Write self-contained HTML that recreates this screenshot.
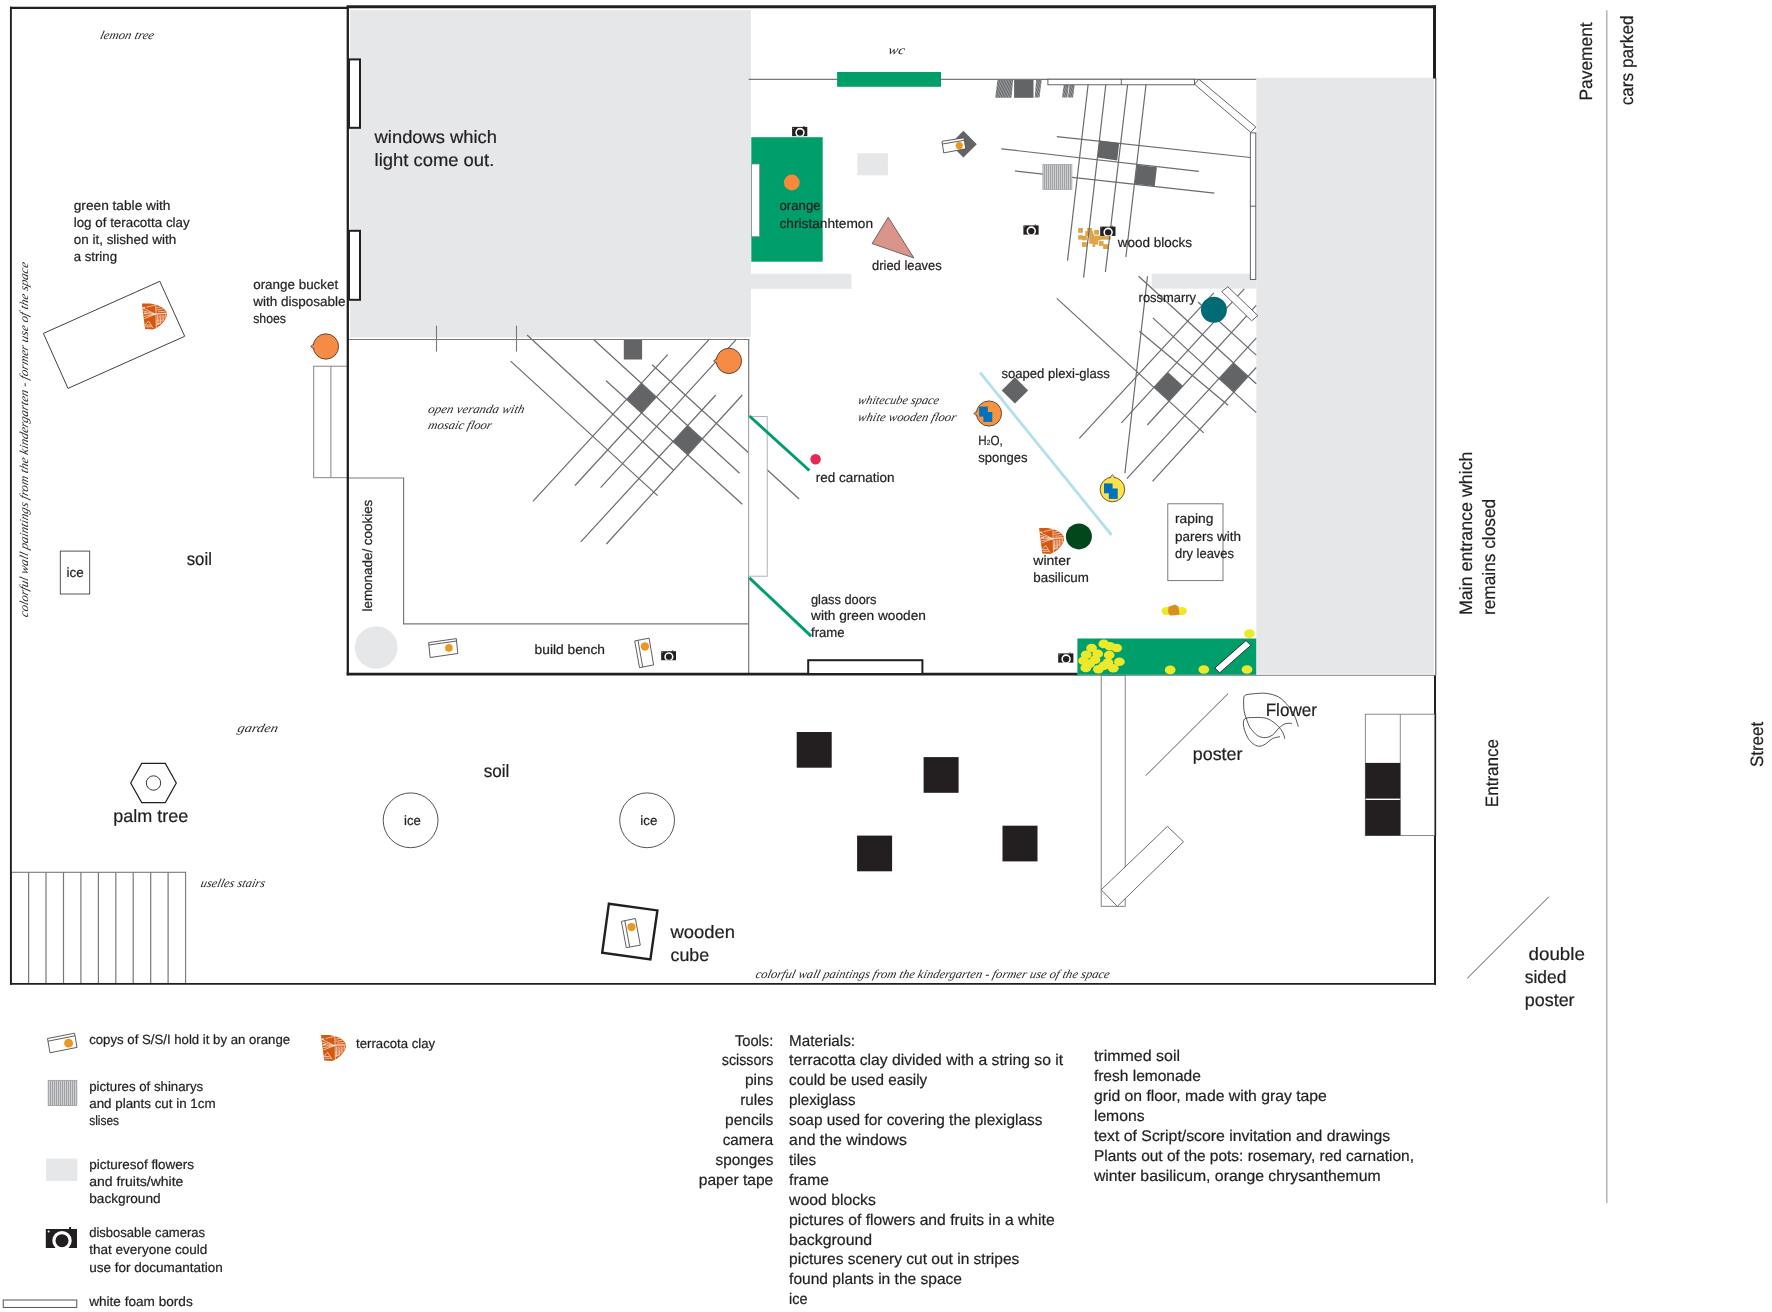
<!DOCTYPE html>
<html lang="en"><head><meta charset="utf-8"><title>Floor plan</title>
<style>
html,body{margin:0;padding:0;background:#fff;}
body{width:1772px;height:1312px;overflow:hidden;}
svg{display:block;will-change:transform;}
text{text-rendering:geometricPrecision;}
.s{font-family:"Liberation Sans",sans-serif;fill:#231f20;stroke:#231f20;stroke-width:0.22px;}
.c{font-family:"Liberation Serif",serif;font-style:italic;fill:#2b2728;}
</style></head><body>
<svg width="1772" height="1312" viewBox="0 0 1772 1312">
<rect width="1772" height="1312" fill="#fff"/>
<defs>
<g id="cam"><rect x="0" y="0" width="31.2" height="19" fill="#231f20"/><rect x="23.3" y="-2" width="2" height="2.2" fill="#231f20"/>
<clipPath id="camc"><rect x="0" y="0" width="31.2" height="19"/></clipPath>
<circle cx="16.2" cy="11.7" r="8.1" fill="none" stroke="#fff" stroke-width="3.2" clip-path="url(#camc)"/><circle cx="2.8" cy="2.6" r="1" fill="#fff"/></g>
<g id="terra"><path d="M0,0 L8,0 C16,1 25,5 25,10.5 C25,17 17,24 11,26 L3.2,25.4 Z" fill="#d4580f"/>
<g stroke="#fff" stroke-width="0.75" stroke-opacity="0.8" fill="none"><path d="M13.6,10.6 L0.6,4.2"/><path d="M13.6,10.6 L1,7.2"/><path d="M13.6,10.6 L1.5,10"/><path d="M13.6,10.6 L2,12.8"/><path d="M13.6,10.6 L2.4,15"/><path d="M13.4,1.4 L4.5,3.6"/><path d="M0.8,4.4 L3.2,3.8" stroke-width="1.2"/><path d="M2.2,9.8 L4.6,9.2" stroke-width="1.2"/><path d="M13.8,0.8 L14.4,24.5"/><path d="M3,21.5 L6.6,17.4 L11,24.3"/><path d="M3.2,21.6 L8.8,21.4"/><path d="M3.4,23.3 L10,23.1"/><path d="M14,10.2 L24.8,9.8" stroke-width="1.3"/><path d="M15.6,11.5 L15.3,22"/><path d="M17.2,11.5 L16.9,21.5"/><path d="M18.8,11.5 L18.5,20.5"/><path d="M20.4,11.5 L20.1,19.2"/><path d="M22,11.5 L21.7,17.6"/><path d="M23.5,11 L23.3,15"/><path d="M14.5,6.5 L21.5,5.2"/><path d="M14.5,4.2 L19,3.2"/><path d="M16,8.2 L23.5,7.6"/><path d="M14.2,20.8 L18.5,19.6"/><path d="M14.2,17.5 L20.5,16.8" stroke-opacity="0.4"/></g></g>
<pattern id="vstripe" width="2" height="4" patternUnits="userSpaceOnUse"><rect width="2" height="4" fill="#cfd0d2"/><rect width="0.9" height="4" fill="#9a9c9f"/></pattern>
<pattern id="hatch" width="2.4" height="2.4" patternUnits="userSpaceOnUse" patternTransform="rotate(-28)"><rect width="2.4" height="2.4" fill="#6d6e71"/><rect width="0.9" height="2.4" fill="#9fa1a4"/></pattern>
</defs>
<rect x="350.1" y="10.2" width="400.8" height="327.2" fill="#e6e7e8" stroke="none" stroke-width="1" />
<rect x="1256.3" y="77.8" width="177.6" height="596.0" fill="#e6e7e8" stroke="none" stroke-width="1" />
<rect x="750.3" y="273.7" width="101.2" height="15.1" fill="#e6e7e8" stroke="none" stroke-width="1" />
<rect x="1151.8" y="273.7" width="104.6" height="14.9" fill="#e6e7e8" stroke="none" stroke-width="1" />
<rect x="857.3" y="153.3" width="30.6" height="22.0" fill="#e6e7e8" stroke="none" stroke-width="1" />
<circle cx="376.2" cy="647.5" r="21.3" fill="#e6e7e8" stroke="none" stroke-width="1"/>
<polygon points="641.4,383.3 656.3,397.0 641.6,413.0 626.7,399.4" fill="#636466" stroke="#636466" stroke-width="0.6" />
<polygon points="687.6,425.6 702.2,439.0 687.8,454.8 673.1,441.5" fill="#636466" stroke="#636466" stroke-width="0.6" />
<line x1="510.6" y1="361.1" x2="657.6" y2="495.6" stroke="#6a6b6e" stroke-width="1.2" />
<line x1="527.1" y1="335.0" x2="673.4" y2="470.0" stroke="#6a6b6e" stroke-width="1.2" />
<line x1="606.1" y1="380.7" x2="742.3" y2="504.3" stroke="#6a6b6e" stroke-width="1.2" />
<line x1="593.3" y1="339.2" x2="739.6" y2="473.3" stroke="#6a6b6e" stroke-width="1.2" />
<line x1="652.2" y1="364.8" x2="799.1" y2="499.0" stroke="#6a6b6e" stroke-width="1.2" />
<line x1="532.9" y1="501.4" x2="667.7" y2="354.7" stroke="#6a6b6e" stroke-width="1.2" />
<line x1="575.0" y1="485.5" x2="709.4" y2="339.2" stroke="#6a6b6e" stroke-width="1.2" />
<line x1="600.6" y1="487.7" x2="735.9" y2="339.8" stroke="#6a6b6e" stroke-width="1.2" />
<line x1="580.8" y1="541.8" x2="715.8" y2="395.0" stroke="#6a6b6e" stroke-width="1.2" />
<line x1="606.4" y1="544.0" x2="742.3" y2="395.0" stroke="#6a6b6e" stroke-width="1.2" />
<rect x="623.8" y="339.6" width="18.3" height="19.9" fill="#636466" stroke="none" stroke-width="1" />
<polygon points="1153.9,387.3 1167.8,372.3 1182.8,386.1 1169.0,401.1" fill="#636466" stroke="#636466" stroke-width="0.6" />
<polygon points="1219.0,378.6 1233.4,363.0 1248.1,376.4 1233.8,392.1" fill="#636466" stroke="#636466" stroke-width="0.6" />
<line x1="1056.8" y1="298.4" x2="1203.7" y2="432.9" stroke="#6a6b6e" stroke-width="1.2" />
<line x1="1139.4" y1="331.3" x2="1228.1" y2="405.3" stroke="#6a6b6e" stroke-width="1.2" />
<line x1="1152.8" y1="317.9" x2="1256.2" y2="412.6" stroke="#6a6b6e" stroke-width="1.2" />
<line x1="1138.6" y1="276.3" x2="1256.2" y2="383.8" stroke="#6a6b6e" stroke-width="1.2" />
<line x1="1198.0" y1="302.0" x2="1256.2" y2="355.1" stroke="#6a6b6e" stroke-width="1.2" />
<line x1="1079.3" y1="438.3" x2="1213.8" y2="292.9" stroke="#6a6b6e" stroke-width="1.2" />
<line x1="1121.4" y1="422.8" x2="1244.3" y2="288.9" stroke="#6a6b6e" stroke-width="1.2" />
<line x1="1147.3" y1="425.0" x2="1256.2" y2="305.4" stroke="#6a6b6e" stroke-width="1.2" />
<line x1="1126.9" y1="478.6" x2="1256.2" y2="338.2" stroke="#6a6b6e" stroke-width="1.2" />
<line x1="1152.5" y1="481.3" x2="1256.2" y2="367.5" stroke="#6a6b6e" stroke-width="1.2" />
<line x1="1147.5" y1="276.2" x2="1124.9" y2="473.2" stroke="#6a6b6e" stroke-width="1.2" />
<rect x="1078.1" y="228.0" width="4.8" height="4.8" fill="#dda548" stroke="none" stroke-width="1" />
<rect x="1087.2" y="228.0" width="4.8" height="4.8" fill="#dda548" stroke="none" stroke-width="1" />
<rect x="1085.3" y="231.1" width="4.8" height="4.8" fill="#dda548" stroke="none" stroke-width="1" />
<rect x="1088.5" y="231.1" width="4.8" height="4.8" fill="#dda548" stroke="none" stroke-width="1" />
<rect x="1094.2" y="229.9" width="4.8" height="4.8" fill="#dda548" stroke="none" stroke-width="1" />
<rect x="1078.1" y="235.2" width="4.8" height="4.4" fill="#dda548" stroke="none" stroke-width="1" />
<rect x="1082.0" y="235.9" width="4.8" height="4.4" fill="#dda548" stroke="none" stroke-width="1" />
<rect x="1089.2" y="234.2" width="4.8" height="4.8" fill="#dda548" stroke="none" stroke-width="1" />
<rect x="1092.0" y="235.6" width="4.8" height="4.8" fill="#dda548" stroke="none" stroke-width="1" />
<rect x="1096.1" y="235.6" width="4.8" height="4.8" fill="#dda548" stroke="none" stroke-width="1" />
<rect x="1100.9" y="236.1" width="9.9" height="3.6" fill="#dda548" stroke="none" stroke-width="1" />
<rect x="1089.2" y="239.0" width="4.8" height="4.8" fill="#dda548" stroke="none" stroke-width="1" />
<rect x="1093.3" y="239.7" width="4.8" height="4.8" fill="#dda548" stroke="none" stroke-width="1" />
<rect x="1082.0" y="242.1" width="4.8" height="4.8" fill="#dda548" stroke="none" stroke-width="1" />
<rect x="1092.6" y="242.4" width="2.6" height="4.6" fill="#dda548" stroke="none" stroke-width="1" />
<rect x="1098.8" y="241.1" width="4.8" height="4.8" fill="#dda548" stroke="none" stroke-width="1" />
<rect x="1103.1" y="244.2" width="5.8" height="4.8" fill="#dda548" stroke="none" stroke-width="1" />
<line x1="1088.1" y1="84.8" x2="1067.5" y2="260.8" stroke="#6a6b6e" stroke-width="1.2" />
<line x1="1105.8" y1="84.8" x2="1083.6" y2="277.6" stroke="#6a6b6e" stroke-width="1.2" />
<line x1="1127.6" y1="84.8" x2="1105.4" y2="272.0" stroke="#6a6b6e" stroke-width="1.2" />
<line x1="1146.0" y1="84.8" x2="1125.9" y2="257.0" stroke="#6a6b6e" stroke-width="1.2" />
<line x1="1056.8" y1="136.6" x2="1250.3" y2="157.5" stroke="#6a6b6e" stroke-width="1.2" />
<line x1="1001.3" y1="148.8" x2="1198.8" y2="171.4" stroke="#6a6b6e" stroke-width="1.2" />
<line x1="1014.9" y1="170.9" x2="1214.4" y2="193.2" stroke="#6a6b6e" stroke-width="1.2" />
<polygon points="1099.4,140.4 1119.2,142.9 1117.2,160.5 1097.4,157.5" fill="#636466" stroke="none" stroke-width="1" />
<polygon points="1136.8,164.7 1156.9,167.3 1154.7,186.2 1134.6,183.7" fill="#636466" stroke="none" stroke-width="1" />
<rect x="1042.9" y="164.4" width="29.0" height="25.2" fill="url(#vstripe)" stroke="#a7a9ac" stroke-width="0.8" />
<polygon points="997.5,79.4 1013.2,79.4 1011.5,97.8 995.2,97.8" fill="url(#hatch)" stroke="none" stroke-width="1" />
<rect x="1014.1" y="79.4" width="19.4" height="18.4" fill="#636466" stroke="none" stroke-width="1" />
<polygon points="1036.1,79.9 1041.7,79.9 1039.5,97.5 1034.7,97.5" fill="url(#hatch)" stroke="none" stroke-width="1" />
<polygon points="1063.7,85.0 1068.9,85.0 1067.3,97.5 1062.0,97.5" fill="url(#hatch)" stroke="none" stroke-width="1" />
<polygon points="1069.5,85.0 1074.7,85.0 1073.0,97.5 1067.9,97.5" fill="url(#hatch)" stroke="none" stroke-width="1" />
<line x1="980.1" y1="372.7" x2="1111.5" y2="535.0" stroke="#b3e0ec" stroke-width="2.8" />
<polygon points="1014.9,377.2 1028.1,390.4 1014.9,403.6 1001.7,390.4" fill="#636466" stroke="none" stroke-width="1" />
<line x1="748.6" y1="79.4" x2="1256.2" y2="79.4" stroke="#77787b" stroke-width="1.1" />
<line x1="347.7" y1="339.5" x2="749.3" y2="339.5" stroke="#77787b" stroke-width="1.1" />
<line x1="748.7" y1="339.0" x2="748.7" y2="675.0" stroke="#77787b" stroke-width="1.2" />
<line x1="436.5" y1="325.7" x2="436.5" y2="351.5" stroke="#77787b" stroke-width="1.1" />
<line x1="516.5" y1="325.7" x2="516.5" y2="351.5" stroke="#77787b" stroke-width="1.1" />
<polyline points="347.7,478 403.6,478 403.6,623.9 748.7,623.9" fill="none" stroke="#77787b" stroke-width="1.2"/>
<line x1="1435.8" y1="78.0" x2="1435.8" y2="675.5" stroke="#6d6e71" stroke-width="1.2" />
<line x1="1077.0" y1="675.3" x2="1436.0" y2="675.3" stroke="#97999c" stroke-width="1.2" />
<rect x="748.7" y="416.6" width="18.5" height="159.6" fill="#fff" stroke="#a7a9ac" stroke-width="0.9" />
<rect x="313.7" y="366.2" width="34.0" height="111.5" fill="#fff" stroke="#77787b" stroke-width="0.9" />
<line x1="330.9" y1="366.2" x2="330.9" y2="477.7" stroke="#77787b" stroke-width="0.9" />
<rect x="11.2" y="872.3" width="174.4" height="111.2" fill="none" stroke="#77787b" stroke-width="1.1" />
<line x1="28.6" y1="872.3" x2="28.6" y2="983.5" stroke="#77787b" stroke-width="1.2" />
<line x1="46.0" y1="872.3" x2="46.0" y2="983.5" stroke="#77787b" stroke-width="1.2" />
<line x1="63.5" y1="872.3" x2="63.5" y2="983.5" stroke="#77787b" stroke-width="1.2" />
<line x1="80.9" y1="872.3" x2="80.9" y2="983.5" stroke="#77787b" stroke-width="1.2" />
<line x1="98.4" y1="872.3" x2="98.4" y2="983.5" stroke="#77787b" stroke-width="1.2" />
<line x1="115.8" y1="872.3" x2="115.8" y2="983.5" stroke="#77787b" stroke-width="1.2" />
<line x1="133.2" y1="872.3" x2="133.2" y2="983.5" stroke="#77787b" stroke-width="1.2" />
<line x1="150.7" y1="872.3" x2="150.7" y2="983.5" stroke="#77787b" stroke-width="1.2" />
<line x1="168.1" y1="872.3" x2="168.1" y2="983.5" stroke="#77787b" stroke-width="1.2" />
<rect x="1101.2" y="675.4" width="24.0" height="230.9" fill="none" stroke="#77787b" stroke-width="0.9" />
<polygon points="1167.4,826.4 1183.5,841.8 1117.3,906.3 1101.2,889.8" fill="#fff" stroke="#58595b" stroke-width="0.9" />
<line x1="1228.1" y1="693.6" x2="1145.8" y2="775.6" stroke="#58595b" stroke-width="1" />
<line x1="1548.9" y1="896.7" x2="1467.2" y2="978.4" stroke="#58595b" stroke-width="1" />
<line x1="1606.8" y1="10.3" x2="1606.8" y2="1203.0" stroke="#a7a9ac" stroke-width="1.3" />
<line x1="10.0" y1="7.9" x2="347.8" y2="7.9" stroke="#231f20" stroke-width="2.3" />
<line x1="10.9" y1="6.8" x2="10.9" y2="984.8" stroke="#231f20" stroke-width="1.9" />
<line x1="10.0" y1="983.9" x2="1436.0" y2="983.9" stroke="#231f20" stroke-width="1.9" />
<line x1="346.7" y1="6.8" x2="1436.0" y2="6.8" stroke="#231f20" stroke-width="2.9" />
<line x1="347.8" y1="6.0" x2="347.8" y2="675.3" stroke="#231f20" stroke-width="2.3" />
<line x1="1434.5" y1="5.4" x2="1434.5" y2="78.5" stroke="#231f20" stroke-width="3.0" />
<line x1="1435.0" y1="675.5" x2="1435.0" y2="984.8" stroke="#231f20" stroke-width="2.0" />
<line x1="346.7" y1="674.1" x2="1077.6" y2="674.1" stroke="#231f20" stroke-width="2.6" />
<rect x="349.0" y="59.4" width="11.0" height="68.4" fill="#fff" stroke="#231f20" stroke-width="2" />
<rect x="349.0" y="230.8" width="11.0" height="69.0" fill="#fff" stroke="#231f20" stroke-width="2" />
<rect x="808.2" y="660.2" width="114.2" height="13.8" fill="#fff" stroke="#231f20" stroke-width="2" />
<rect x="1047.9" y="79.2" width="146.7" height="5.6" fill="#fff" stroke="#3f3f41" stroke-width="0.8" />
<line x1="1121.3" y1="79.2" x2="1121.3" y2="84.8" stroke="#3f3f41" stroke-width="0.8" />
<polygon points="1194.6,84.3 1198.8,79.2 1255.8,127.0 1250.8,132.4" fill="#fff" stroke="#3f3f41" stroke-width="0.8" />
<rect x="1250.3" y="132.9" width="5.5" height="146.7" fill="#fff" stroke="#3f3f41" stroke-width="0.8" />
<line x1="1250.3" y1="206.2" x2="1255.8" y2="206.2" stroke="#3f3f41" stroke-width="0.8" />
<polygon points="1221.7,291.6 1227.9,286.8 1257.8,315.6 1251.6,320.8" fill="#fff" stroke="#3f3f41" stroke-width="0.8" />
<rect x="837.1" y="72.0" width="103.9" height="14.8" fill="#009e6b" stroke="none" stroke-width="1" />
<rect x="751.3" y="137.2" width="71.4" height="124.5" fill="#009e6b" stroke="none" stroke-width="1" />
<rect x="751.5" y="164.0" width="8.1" height="72.7" fill="#fff" stroke="#808285" stroke-width="0.7" />
<circle cx="791.8" cy="182.5" r="7.9" fill="#f58a3c" stroke="none" stroke-width="1"/>
<line x1="749.4" y1="416.0" x2="809.4" y2="470.5" stroke="#009e6b" stroke-width="3" />
<line x1="749.4" y1="577.9" x2="811.1" y2="636.2" stroke="#009e6b" stroke-width="3" />
<circle cx="815.6" cy="459.2" r="5.2" fill="#e8274f" stroke="none" stroke-width="1"/>
<polygon points="888.2,217.2 913.9,258.0 872.1,243.6" fill="#d9958a" stroke="#58464a" stroke-width="0.8" />
<polygon points="963.4,130.8 976.8,144.2 963.4,157.6 950.0,144.2" fill="#636466" stroke="none" stroke-width="1" />
<polygon points="942.0,141.3 964.0,137.8 965.7,148.8 943.7,152.9" fill="#fff" stroke="#4d4d4f" stroke-width="0.9" />
<line x1="942.4" y1="144.0" x2="964.4" y2="140.3" stroke="#4d4d4f" stroke-width="0.9" />
<circle cx="959.3" cy="145.6" r="3.6" fill="#ec971f" stroke="none" stroke-width="1"/>
<use href="#cam" transform="translate(792.1 126.9) scale(0.487)"/>
<use href="#cam" transform="translate(1023.4 225.4) scale(0.487)"/>
<use href="#cam" transform="translate(1100.2 226.6) scale(0.490)"/>
<use href="#cam" transform="translate(661.2 651.2) scale(0.474)"/>
<use href="#cam" transform="translate(1058.2 653.4) scale(0.487)"/>
<polygon points="310.6,346.5 314.4,343.5 314.4,349.5" fill="#f68b45" stroke="#231f20" stroke-width="0.7" />
<circle cx="325.9" cy="346.5" r="12.7" fill="#f68b45" stroke="#231f20" stroke-width="0.7"/>
<polygon points="311.4,346.5 314.8,344.1 314.8,348.9" fill="#f68b45" stroke="none" stroke-width="1" />
<polygon points="713.6,360.9 717.4,357.9 717.4,363.9" fill="#f68b45" stroke="#231f20" stroke-width="0.7" />
<circle cx="728.9" cy="360.9" r="12.7" fill="#f68b45" stroke="#231f20" stroke-width="0.7"/>
<polygon points="714.4,360.9 717.8,358.5 717.8,363.3" fill="#f68b45" stroke="none" stroke-width="1" />
<polygon points="973.8,413.5 977.6,410.5 977.6,416.5" fill="#f7943d" stroke="#231f20" stroke-width="0.7" />
<circle cx="989.0" cy="413.5" r="12.6" fill="#f7943d" stroke="#231f20" stroke-width="0.7"/>
<polygon points="974.6,413.5 978.0,411.1 978.0,415.9" fill="#f7943d" stroke="none" stroke-width="1" />
<rect x="979.1" y="406.6" width="8.7" height="10.0" fill="#0071bc" stroke="none" stroke-width="1" />
<rect x="983.4" y="412.0" width="8.9" height="9.9" fill="#0071bc" stroke="none" stroke-width="1" />
<polygon points="1112.4,474.6 1109.4,478.4 1115.4,478.4" fill="#ffe24a" stroke="#231f20" stroke-width="0.7" />
<circle cx="1112.4" cy="489.5" r="12.3" fill="#ffe24a" stroke="#231f20" stroke-width="0.7"/>
<polygon points="1112.4,475.4 1110.0,478.8 1114.8,478.8" fill="#ffe24a" stroke="none" stroke-width="1" />
<rect x="1104.0" y="483.4" width="8.6" height="9.9" fill="#0071bc" stroke="none" stroke-width="1" />
<rect x="1108.8" y="488.5" width="8.9" height="10.4" fill="#0071bc" stroke="none" stroke-width="1" />
<circle cx="1213.9" cy="309.8" r="13.0" fill="#006b75" stroke="none" stroke-width="1"/>
<circle cx="1078.9" cy="536.4" r="13.0" fill="#00471b" stroke="none" stroke-width="1"/>
<use href="#terra" transform="translate(1039.1 528.1) scale(1.000)"/>
<rect x="1167.8" y="503.8" width="55.2" height="76.8" fill="none" stroke="#6d6e71" stroke-width="0.9" />
<rect x="1077.4" y="638.5" width="178.8" height="36.3" fill="#009e6b" stroke="none" stroke-width="1" />
<ellipse cx="1091.6" cy="648.0" rx="5.4" ry="4.3" fill="#ede82a"/>
<ellipse cx="1103.8" cy="643.9" rx="5.4" ry="4.3" fill="#ede82a"/>
<ellipse cx="1116.7" cy="648.0" rx="5.4" ry="4.3" fill="#ede82a"/>
<ellipse cx="1086.2" cy="654.7" rx="5.4" ry="4.3" fill="#ede82a"/>
<ellipse cx="1097.7" cy="653.7" rx="5.4" ry="4.3" fill="#ede82a"/>
<ellipse cx="1109.2" cy="655.0" rx="5.4" ry="4.3" fill="#ede82a"/>
<ellipse cx="1083.5" cy="660.7" rx="5.4" ry="4.3" fill="#ede82a"/>
<ellipse cx="1095.0" cy="659.8" rx="5.4" ry="4.3" fill="#ede82a"/>
<ellipse cx="1107.9" cy="662.5" rx="5.4" ry="4.3" fill="#ede82a"/>
<ellipse cx="1119.4" cy="661.8" rx="5.4" ry="4.3" fill="#ede82a"/>
<ellipse cx="1085.8" cy="667.9" rx="5.4" ry="4.3" fill="#ede82a"/>
<ellipse cx="1098.4" cy="669.2" rx="5.4" ry="4.3" fill="#ede82a"/>
<ellipse cx="1113.3" cy="668.3" rx="5.4" ry="4.3" fill="#ede82a"/>
<ellipse cx="1089.6" cy="663.8" rx="5.4" ry="4.3" fill="#ede82a"/>
<ellipse cx="1109.9" cy="646.2" rx="5.4" ry="4.3" fill="#ede82a"/>
<ellipse cx="1103.8" cy="665.8" rx="5.4" ry="4.3" fill="#ede82a"/>
<ellipse cx="1170.2" cy="669.9" rx="5.4" ry="4.3" fill="#ede82a"/>
<ellipse cx="1203.8" cy="669.5" rx="5.4" ry="4.3" fill="#ede82a"/>
<ellipse cx="1247.0" cy="669.5" rx="5.4" ry="4.3" fill="#ede82a"/>
<ellipse cx="1249.4" cy="633.6" rx="5.4" ry="4.3" fill="#ede82a"/>
<ellipse cx="1166.8" cy="611.0" rx="5.2" ry="4.1" fill="#ede82a"/>
<ellipse cx="1181.7" cy="611.0" rx="5.2" ry="4.1" fill="#ede82a"/>
<polygon points="1168.5,606.8 1175.0,604.6 1178.5,606.5 1179.5,614.5 1175.5,615.2 1170.0,615.6 1168.0,612.0" fill="#d6901f" stroke="none" stroke-width="1" />
<polygon points="1214.9,667.9 1219.6,672.9 1250.8,645.3 1246.0,640.5" fill="#fff" stroke="#231f20" stroke-width="0.9" />
<polygon points="159.8,281.3 184.7,336.3 68.0,388.4 43.4,333.4" fill="none" stroke="#414042" stroke-width="1" />
<use href="#terra" transform="translate(141.9 303.6) scale(1.000)"/>
<rect x="60.3" y="551.1" width="29.4" height="42.9" fill="none" stroke="#414042" stroke-width="0.9" />
<circle cx="410.6" cy="820.3" r="27.4" fill="none" stroke="#414042" stroke-width="0.9"/>
<circle cx="647.1" cy="820.3" r="27.4" fill="none" stroke="#414042" stroke-width="0.9"/>
<polygon points="130.7,783.0 141.7,763.4 165.3,763.4 176.3,783.0 165.3,802.6 141.7,802.6" fill="none" stroke="#231f20" stroke-width="1.2" />
<circle cx="153.5" cy="783.0" r="7.2" fill="none" stroke="#231f20" stroke-width="0.9"/>
<polygon points="428.6,642.6 456.3,638.6 457.8,653.5 430.2,657.5" fill="#fff" stroke="#4d4d4f" stroke-width="0.9" />
<line x1="428.9" y1="645.0" x2="456.5" y2="641.0" stroke="#4d4d4f" stroke-width="0.9" />
<circle cx="448.9" cy="647.9" r="3.8" fill="#ec971f" stroke="none" stroke-width="1"/>
<polygon points="639.5,667.7 634.7,640.9 649.1,638.2 653.6,664.9" fill="#fff" stroke="#4d4d4f" stroke-width="0.9" />
<line x1="642.7" y1="667.1" x2="638.0" y2="640.3" stroke="#4d4d4f" stroke-width="0.9" />
<circle cx="644.9" cy="646.5" r="4.2" fill="#ec971f" stroke="none" stroke-width="1"/>
<polygon points="608.9,903.7 657.4,910.4 650.4,959.5 602.2,952.8" fill="none" stroke="#231f20" stroke-width="2.4" />
<polygon points="626.3,947.6 621.4,921.4 635.4,918.5 640.3,945.2" fill="#fff" stroke="#4d4d4f" stroke-width="0.9" />
<line x1="629.7" y1="947.0" x2="624.8" y2="920.7" stroke="#4d4d4f" stroke-width="0.9" />
<circle cx="631.5" cy="927.1" r="4.1" fill="#ec971f" stroke="none" stroke-width="1"/>
<rect x="796.7" y="732.0" width="35.0" height="35.7" fill="#231f20" stroke="none" stroke-width="1" />
<rect x="923.6" y="757.1" width="35.0" height="35.7" fill="#231f20" stroke="none" stroke-width="1" />
<rect x="857.1" y="835.6" width="35.0" height="35.7" fill="#231f20" stroke="none" stroke-width="1" />
<rect x="1002.5" y="825.7" width="35.0" height="35.7" fill="#231f20" stroke="none" stroke-width="1" />
<rect x="1365.3" y="714.2" width="69.4" height="121.4" fill="#fff" stroke="#6d6e71" stroke-width="0.8" />
<line x1="1435.6" y1="713.6" x2="1435.6" y2="836.2" stroke="#231f20" stroke-width="1.1" />
<line x1="1400.3" y1="714.2" x2="1400.3" y2="835.6" stroke="#6d6e71" stroke-width="0.8" />
<rect x="1365.3" y="762.9" width="35.0" height="35.7" fill="#231f20" stroke="none" stroke-width="1" />
<rect x="1365.3" y="800.0" width="35.0" height="35.6" fill="#231f20" stroke="none" stroke-width="1" />
<path d="M1298.3,726.6 C1297.7,724.9 1296.4,719.5 1294.6,716.0 C1292.9,712.5 1290.6,708.8 1287.9,705.6 C1285.3,702.5 1282.3,699.1 1278.8,697.1 C1275.2,695.0 1270.7,694.0 1266.6,693.4 C1262.5,692.9 1257.9,693.4 1254.4,693.7 C1250.8,694.0 1247.0,694.3 1245.2,695.2 C1243.5,696.2 1243.9,697.0 1243.7,699.5 C1243.5,702.1 1243.6,707.2 1244.0,710.5 C1244.5,713.7 1245.4,716.2 1246.5,719.0 C1247.5,721.9 1248.3,724.8 1250.1,727.6 C1252.0,730.3 1254.9,733.8 1257.4,735.5 C1260.0,737.2 1262.8,737.7 1265.4,737.6 C1267.9,737.5 1270.4,736.5 1272.7,734.9 C1274.9,733.3 1276.7,730.0 1278.8,728.2 C1280.8,726.3 1282.7,724.7 1284.9,723.9 C1287.1,723.1 1290.7,723.4 1291.9,723.3" fill="none" stroke="#414042" stroke-width="0.9"/>
<path d="M1284.9,738.8 C1284.5,737.7 1284.0,734.3 1282.4,731.8 C1280.9,729.3 1278.4,726.1 1275.7,723.9 C1273.1,721.7 1270.1,719.5 1266.6,718.4 C1263.0,717.3 1258.0,717.4 1254.4,717.5 C1250.7,717.6 1246.4,717.3 1244.6,719.0 C1242.9,720.7 1243.3,724.3 1243.9,727.6 C1244.5,730.8 1246.5,735.7 1248.3,738.5 C1250.0,741.4 1252.5,743.4 1254.4,744.6 C1256.3,745.9 1258.0,746.3 1259.9,746.2 C1261.7,746.1 1263.2,745.3 1265.4,744.0 C1267.5,742.8 1270.2,739.8 1272.7,738.5 C1275.1,737.3 1278.8,737.0 1280.0,736.7" fill="none" stroke="#414042" stroke-width="0.9"/>
<polygon points="47.5,1038.5 74.6,1033.2 77.0,1047.4 50.0,1052.8" fill="#fff" stroke="#4d4d4f" stroke-width="0.9" />
<line x1="48.0" y1="1041.2" x2="75.0" y2="1035.8" stroke="#4d4d4f" stroke-width="0.9" />
<circle cx="68.6" cy="1043.2" r="4.4" fill="#ec971f" stroke="none" stroke-width="1"/>
<rect x="48.2" y="1080.4" width="28.6" height="25.1" fill="url(#vstripe)" stroke="#a0a2a5" stroke-width="0.9" />
<rect x="46.0" y="1158.6" width="31.3" height="22.3" fill="#e6e7e8" stroke="none" stroke-width="1" />
<use href="#cam" transform="translate(45.8 1229.0) scale(1.000)"/>
<rect x="3.2" y="1300.0" width="73.6" height="7.4" fill="#fff" stroke="#414042" stroke-width="0.9" />
<use href="#terra" transform="translate(321.0 1035.0) scale(1.000)"/>
<text class="c" font-size="12.0" textLength="53.8" lengthAdjust="spacingAndGlyphs" transform="translate(99.5 38.8) skewX(-14)">lemon tree</text>
<text class="s" font-size="13.3" textLength="96.8" lengthAdjust="spacingAndGlyphs" x="73.7" y="210.4">green table with</text>
<text class="s" font-size="13.3" textLength="116.0" lengthAdjust="spacingAndGlyphs" x="73.7" y="227.4">log of teracotta clay</text>
<text class="s" font-size="13.3" textLength="102.6" lengthAdjust="spacingAndGlyphs" x="73.7" y="244.4">on it, slished with</text>
<text class="s" font-size="13.3" textLength="43.3" lengthAdjust="spacingAndGlyphs" x="73.7" y="261.4">a string</text>
<text class="s" font-size="13.3" textLength="85.0" lengthAdjust="spacingAndGlyphs" x="253.2" y="288.9">orange bucket</text>
<text class="s" font-size="13.3" textLength="92.3" lengthAdjust="spacingAndGlyphs" x="253.2" y="305.7">with disposable</text>
<text class="s" font-size="13.3" textLength="32.8" lengthAdjust="spacingAndGlyphs" x="253.2" y="322.9">shoes</text>
<text class="s" font-size="17.9" textLength="122.4" lengthAdjust="spacingAndGlyphs" x="374.6" y="142.8">windows which</text>
<text class="s" font-size="17.9" textLength="119.7" lengthAdjust="spacingAndGlyphs" x="374.6" y="165.8">light come out.</text>
<text class="c" font-size="12.0" textLength="354.7" lengthAdjust="spacingAndGlyphs" transform="translate(27.5 617.7) rotate(-90) skewX(-14)">colorful wall paintings from the kindergarten - former use of the space</text>
<text class="s" font-size="13.3" textLength="17.2" lengthAdjust="spacingAndGlyphs" x="66.6" y="576.8">ice</text>
<text class="s" font-size="17.9" textLength="25.2" lengthAdjust="spacingAndGlyphs" x="186.7" y="565.4">soil</text>
<text class="s" font-size="17.9" textLength="25.7" lengthAdjust="spacingAndGlyphs" x="483.7" y="776.5">soil</text>
<text class="s" font-size="17.9" textLength="75.1" lengthAdjust="spacingAndGlyphs" x="113.2" y="822.1">palm tree</text>
<text class="s" font-size="13.3" textLength="16.8" lengthAdjust="spacingAndGlyphs" x="404.1" y="824.5">ice</text>
<text class="s" font-size="13.3" textLength="17.0" lengthAdjust="spacingAndGlyphs" x="640.3" y="824.5">ice</text>
<text class="c" font-size="12.0" textLength="40.5" lengthAdjust="spacingAndGlyphs" transform="translate(236.7 731.9) skewX(-14)">garden</text>
<text class="c" font-size="12.0" textLength="64.2" lengthAdjust="spacingAndGlyphs" transform="translate(200.0 887.0) skewX(-14)">uselles stairs</text>
<text class="s" font-size="17.9" textLength="64.5" lengthAdjust="spacingAndGlyphs" x="670.5" y="937.6">wooden</text>
<text class="s" font-size="17.9" textLength="38.7" lengthAdjust="spacingAndGlyphs" x="670.5" y="960.6">cube</text>
<text class="c" font-size="12.0" textLength="354.0" lengthAdjust="spacingAndGlyphs" transform="translate(754.9 978.2) skewX(-14)">colorful wall paintings from the kindergarten - former use of the space</text>
<text class="c" font-size="12.0" textLength="96.1" lengthAdjust="spacingAndGlyphs" transform="translate(427.6 412.6) skewX(-14)">open veranda with</text>
<text class="c" font-size="12.0" textLength="63.4" lengthAdjust="spacingAndGlyphs" transform="translate(427.6 429.4) skewX(-14)">mosaic floor</text>
<text class="s" font-size="13.3" textLength="111.8" lengthAdjust="spacingAndGlyphs" transform="translate(372.0 611.5) rotate(-90)">lemonade/ cookies</text>
<text class="s" font-size="13.3" textLength="70.4" lengthAdjust="spacingAndGlyphs" x="534.6" y="653.7">build bench</text>
<text class="c" font-size="12.0" textLength="16.5" lengthAdjust="spacingAndGlyphs" transform="translate(887.5 53.6) skewX(-14)">wc</text>
<text class="s" font-size="13.3" textLength="41.1" lengthAdjust="spacingAndGlyphs" x="779.5" y="210.4">orange</text>
<text class="s" font-size="13.3" textLength="93.6" lengthAdjust="spacingAndGlyphs" x="779.5" y="227.5">christanhtemon</text>
<text class="s" font-size="13.3" textLength="69.6" lengthAdjust="spacingAndGlyphs" x="872.1" y="270.4">dried leaves</text>
<text class="s" font-size="13.3" textLength="74.3" lengthAdjust="spacingAndGlyphs" x="1117.8" y="247.3">wood blocks</text>
<text class="s" font-size="13.3" textLength="57.4" lengthAdjust="spacingAndGlyphs" x="1138.6" y="302.4">rossmarry</text>
<text class="s" font-size="13.3" textLength="108.4" lengthAdjust="spacingAndGlyphs" x="1001.4" y="377.6">soaped plexi-glass</text>
<text class="c" font-size="12.0" textLength="81.0" lengthAdjust="spacingAndGlyphs" transform="translate(857.3 404.4) skewX(-14)">whitecube space</text>
<text class="c" font-size="12.0" textLength="98.1" lengthAdjust="spacingAndGlyphs" transform="translate(857.3 421.2) skewX(-14)">white wooden floor</text>
<text class="s" font-size="13.3" x="978.3" y="444.9" textLength="24.4" lengthAdjust="spacingAndGlyphs">H<tspan font-size="7.5">2</tspan>O,</text>
<text class="s" font-size="13.3" textLength="49.3" lengthAdjust="spacingAndGlyphs" x="978.3" y="461.7">sponges</text>
<text class="s" font-size="13.3" textLength="78.6" lengthAdjust="spacingAndGlyphs" x="815.8" y="482.2">red carnation</text>
<text class="s" font-size="13.3" textLength="37.4" lengthAdjust="spacingAndGlyphs" x="1033.3" y="564.6">winter</text>
<text class="s" font-size="13.3" textLength="55.6" lengthAdjust="spacingAndGlyphs" x="1033.3" y="581.7">basilicum</text>
<text class="s" font-size="13.3" textLength="38.4" lengthAdjust="spacingAndGlyphs" x="1175.0" y="523.4">raping</text>
<text class="s" font-size="13.3" textLength="65.9" lengthAdjust="spacingAndGlyphs" x="1175.0" y="540.5">parers with</text>
<text class="s" font-size="13.3" textLength="59.0" lengthAdjust="spacingAndGlyphs" x="1175.0" y="557.7">dry leaves</text>
<text class="s" font-size="13.3" textLength="65.5" lengthAdjust="spacingAndGlyphs" x="811.0" y="603.7">glass doors</text>
<text class="s" font-size="13.3" textLength="114.9" lengthAdjust="spacingAndGlyphs" x="811.0" y="620.1">with green wooden</text>
<text class="s" font-size="13.3" textLength="33.6" lengthAdjust="spacingAndGlyphs" x="811.0" y="636.6">frame</text>
<text class="s" font-size="17.9" textLength="51.2" lengthAdjust="spacingAndGlyphs" x="1265.7" y="715.8">Flower</text>
<text class="s" font-size="17.9" textLength="49.7" lengthAdjust="spacingAndGlyphs" x="1192.8" y="759.9">poster</text>
<text class="s" font-size="17.9" textLength="56.3" lengthAdjust="spacingAndGlyphs" x="1528.6" y="959.9">double</text>
<text class="s" font-size="17.9" textLength="41.5" lengthAdjust="spacingAndGlyphs" x="1524.8" y="982.9">sided</text>
<text class="s" font-size="17.9" textLength="49.8" lengthAdjust="spacingAndGlyphs" x="1524.8" y="1006.2">poster</text>
<text class="s" font-size="17.9" textLength="78.2" lengthAdjust="spacingAndGlyphs" transform="translate(1592.2 100.5) rotate(-90)">Pavement</text>
<text class="s" font-size="17.9" textLength="89.9" lengthAdjust="spacingAndGlyphs" transform="translate(1633.4 105.3) rotate(-90)">cars parked</text>
<text class="s" font-size="17.9" textLength="163.6" lengthAdjust="spacingAndGlyphs" transform="translate(1472.2 615.1) rotate(-90)">Main entrance which</text>
<text class="s" font-size="17.9" textLength="116.3" lengthAdjust="spacingAndGlyphs" transform="translate(1494.5 615.1) rotate(-90)">remains closed</text>
<text class="s" font-size="17.9" textLength="68.3" lengthAdjust="spacingAndGlyphs" transform="translate(1497.9 807.2) rotate(-90)">Entrance</text>
<text class="s" font-size="17.9" textLength="45.3" lengthAdjust="spacingAndGlyphs" transform="translate(1762.7 767.1) rotate(-90)">Street</text>
<text class="s" font-size="13.3" textLength="200.9" lengthAdjust="spacingAndGlyphs" x="89.2" y="1043.6">copys of S/S/I hold it by an orange</text>
<text class="s" font-size="13.3" textLength="79.0" lengthAdjust="spacingAndGlyphs" x="356.1" y="1047.8">terracota clay</text>
<text class="s" font-size="13.3" textLength="114.0" lengthAdjust="spacingAndGlyphs" x="89.2" y="1090.7">pictures of shinarys</text>
<text class="s" font-size="13.3" textLength="126.4" lengthAdjust="spacingAndGlyphs" x="89.2" y="1107.9">and plants cut in 1cm</text>
<text class="s" font-size="13.3" textLength="29.9" lengthAdjust="spacingAndGlyphs" x="89.2" y="1124.8">slises</text>
<text class="s" font-size="13.3" textLength="104.9" lengthAdjust="spacingAndGlyphs" x="89.2" y="1169.1">picturesof flowers</text>
<text class="s" font-size="13.3" textLength="94.2" lengthAdjust="spacingAndGlyphs" x="89.2" y="1186.4">and fruits/white</text>
<text class="s" font-size="13.3" textLength="71.4" lengthAdjust="spacingAndGlyphs" x="89.2" y="1203.3">background</text>
<text class="s" font-size="13.3" textLength="115.9" lengthAdjust="spacingAndGlyphs" x="89.2" y="1237.4">disbosable cameras</text>
<text class="s" font-size="13.3" textLength="118.2" lengthAdjust="spacingAndGlyphs" x="89.2" y="1254.4">that everyone could</text>
<text class="s" font-size="13.3" textLength="133.7" lengthAdjust="spacingAndGlyphs" x="89.2" y="1271.6">use for documantation</text>
<text class="s" font-size="13.3" textLength="103.5" lengthAdjust="spacingAndGlyphs" x="89.2" y="1305.7">white foam bords</text>
<text class="s" font-size="15.5" textLength="38.4" lengthAdjust="spacingAndGlyphs" x="734.9" y="1045.5">Tools:</text>
<text class="s" font-size="15.5" textLength="51.5" lengthAdjust="spacingAndGlyphs" x="721.8" y="1065.4">scissors</text>
<text class="s" font-size="15.5" textLength="28.4" lengthAdjust="spacingAndGlyphs" x="744.9" y="1085.3">pins</text>
<text class="s" font-size="15.5" textLength="33.0" lengthAdjust="spacingAndGlyphs" x="740.3" y="1105.2">rules</text>
<text class="s" font-size="15.5" textLength="48.3" lengthAdjust="spacingAndGlyphs" x="725.0" y="1125.1">pencils</text>
<text class="s" font-size="15.5" textLength="50.6" lengthAdjust="spacingAndGlyphs" x="722.7" y="1145.0">camera</text>
<text class="s" font-size="15.5" textLength="57.8" lengthAdjust="spacingAndGlyphs" x="715.5" y="1164.9">sponges</text>
<text class="s" font-size="15.5" textLength="74.5" lengthAdjust="spacingAndGlyphs" x="698.8" y="1184.8">paper tape</text>
<text class="s" font-size="15.5" textLength="65.9" lengthAdjust="spacingAndGlyphs" x="789.1" y="1045.5">Materials:</text>
<text class="s" font-size="15.5" textLength="274.0" lengthAdjust="spacingAndGlyphs" x="789.1" y="1065.4">terracotta clay divided with a string so it</text>
<text class="s" font-size="15.5" textLength="138.1" lengthAdjust="spacingAndGlyphs" x="789.1" y="1085.3">could be used easily</text>
<text class="s" font-size="15.5" textLength="66.4" lengthAdjust="spacingAndGlyphs" x="789.1" y="1105.2">plexiglass</text>
<text class="s" font-size="15.5" textLength="253.3" lengthAdjust="spacingAndGlyphs" x="789.1" y="1125.1">soap used for covering the plexiglass</text>
<text class="s" font-size="15.5" textLength="117.8" lengthAdjust="spacingAndGlyphs" x="789.1" y="1145.0">and the windows</text>
<text class="s" font-size="15.5" textLength="27.1" lengthAdjust="spacingAndGlyphs" x="789.1" y="1164.9">tiles</text>
<text class="s" font-size="15.5" textLength="39.7" lengthAdjust="spacingAndGlyphs" x="789.1" y="1184.8">frame</text>
<text class="s" font-size="15.5" textLength="86.7" lengthAdjust="spacingAndGlyphs" x="789.1" y="1204.7">wood blocks</text>
<text class="s" font-size="15.5" textLength="265.5" lengthAdjust="spacingAndGlyphs" x="789.1" y="1224.6">pictures of flowers and fruits in a white</text>
<text class="s" font-size="15.5" textLength="83.1" lengthAdjust="spacingAndGlyphs" x="789.1" y="1244.5">background</text>
<text class="s" font-size="15.5" textLength="230.2" lengthAdjust="spacingAndGlyphs" x="789.1" y="1264.4">pictures scenery cut out in stripes</text>
<text class="s" font-size="15.5" textLength="172.9" lengthAdjust="spacingAndGlyphs" x="789.1" y="1284.3">found plants in the space</text>
<text class="s" font-size="15.5" textLength="18.5" lengthAdjust="spacingAndGlyphs" x="789.1" y="1304.2">ice</text>
<text class="s" font-size="15.5" textLength="86.2" lengthAdjust="spacingAndGlyphs" x="1093.9" y="1061.4">trimmed soil</text>
<text class="s" font-size="15.5" textLength="107.0" lengthAdjust="spacingAndGlyphs" x="1093.9" y="1081.3">fresh lemonade</text>
<text class="s" font-size="15.5" textLength="233.0" lengthAdjust="spacingAndGlyphs" x="1093.9" y="1101.2">grid on floor, made with gray tape</text>
<text class="s" font-size="15.5" textLength="50.6" lengthAdjust="spacingAndGlyphs" x="1093.9" y="1121.1">lemons</text>
<text class="s" font-size="15.5" textLength="296.2" lengthAdjust="spacingAndGlyphs" x="1093.9" y="1141.0">text of Script/score invitation and drawings</text>
<text class="s" font-size="15.5" textLength="320.1" lengthAdjust="spacingAndGlyphs" x="1093.9" y="1160.9">Plants out of the pots: rosemary, red carnation,</text>
<text class="s" font-size="15.5" textLength="286.7" lengthAdjust="spacingAndGlyphs" x="1093.9" y="1180.8">winter basilicum, orange chrysanthemum</text>
</svg>
</body></html>
